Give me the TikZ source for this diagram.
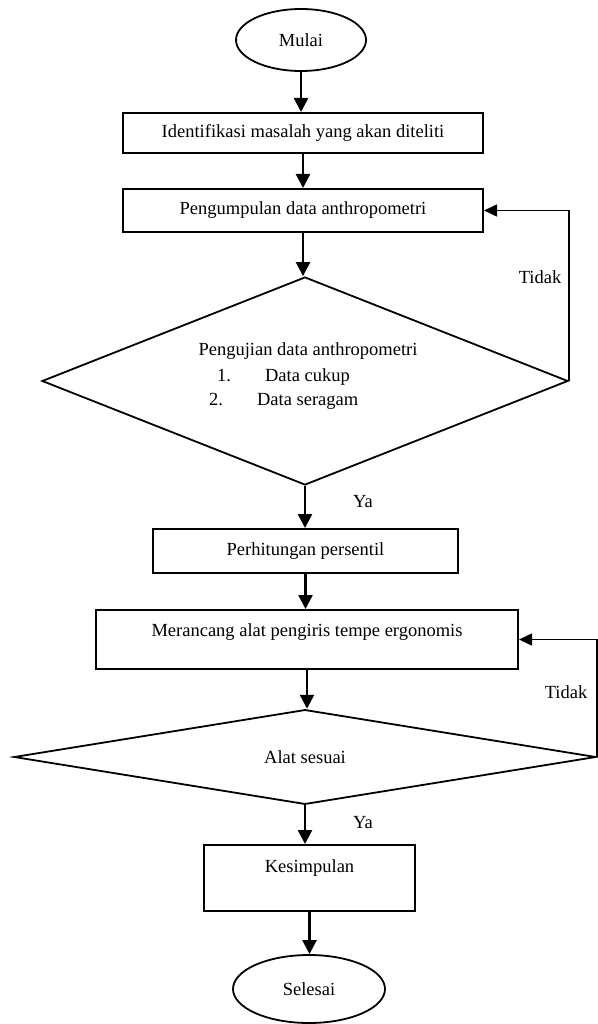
\documentclass[tikz,border=0pt]{standalone}
\usepackage{fontspec}
\setmainfont{Liberation Serif}
\usetikzlibrary{shapes.geometric,arrows.meta}
\begin{document}
\begin{tikzpicture}[x=1pt,y=-1pt,
  every node/.style={font=\fontsize{18.5}{22}\selectfont, inner sep=0pt},
  procbox/.style={draw, rectangle, line width=2pt},
  decision/.style={draw, diamond, line width=1.8pt},
  terminal/.style={draw, ellipse, line width=1.8pt},
  flow/.style={line width=2.5pt, -{Triangle[length=14pt,width=14pt]}},
  back/.style={line width=1.6pt, -{Triangle[length=13pt,width=12pt]}}]
\fill[white] (0,0) rectangle (597,1024);
\useasboundingbox (0,0) rectangle (597,1024);

\node[terminal, minimum width=130pt, minimum height=62pt] (start) at (301,40) {Mulai};
\node[procbox, minimum width=360pt, minimum height=40pt] (b1) at (303,133) {Identifikasi masalah yang akan diteliti};
\node[procbox, minimum width=360pt, minimum height=43pt] (b2) at (303,210.5) {Pengumpulan data anthropometri};
\node[decision, minimum width=526pt, minimum height=208pt] (d1) at (305,381) {};
\node (d1a) at (308,351) {Pengujian data anthropometri};
\node[anchor=base west] (d1b) at (217,381.5) {1.\hspace{34pt}Data cukup};
\node[anchor=base west] (d1c) at (209,405.5) {2.\hspace{34pt}Data seragam};
\node[procbox, minimum width=305pt, minimum height=44pt] (b3) at (305.5,551) {Perhitungan persentil};
\node[procbox, minimum width=422pt, minimum height=59pt, text height=13pt, text depth=19pt] (b4) at (307,639.5) {Merancang alat pengiris tempe ergonomis};
\node[decision, minimum width=582pt, minimum height=85pt] (d2) at (305,757) {Alat sesuai};
\node[procbox, minimum width=211pt, minimum height=66pt, text height=13pt, text depth=24pt] (b5) at (309.5,878) {Kesimpulan};
\node[terminal, minimum width=152pt, minimum height=68pt] (stop) at (309,989) {Selesai};

\node (t1) at (540,277) {Tidak};
\node (t2) at (566,692) {Tidak};
\node (y1) at (363,502) {Ya};
\node (y2) at (363,823) {Ya};

\draw[flow] (start.south) -- (start.south |- b1.north);
\draw[flow] (b1.south) -- (b2.north);
\draw[flow] (b2.south) -- (b2.south |- d1.north);
\draw[back] (d1.east) |- (b2.east);
\draw[flow] (d1.south) -- (d1.south |- b3.north);
\draw[flow] (b3.south) -- (b3.south |- b4.north);
\draw[flow] (b4.south) -- (b4.south |- d2.north);
\draw[back] (d2.east) |- (b4.east);
\draw[flow] (d2.south) -- (d2.south |- b5.north);
\draw[flow] (b5.south) -- (b5.south |- stop.north);
\end{tikzpicture}
\end{document}
